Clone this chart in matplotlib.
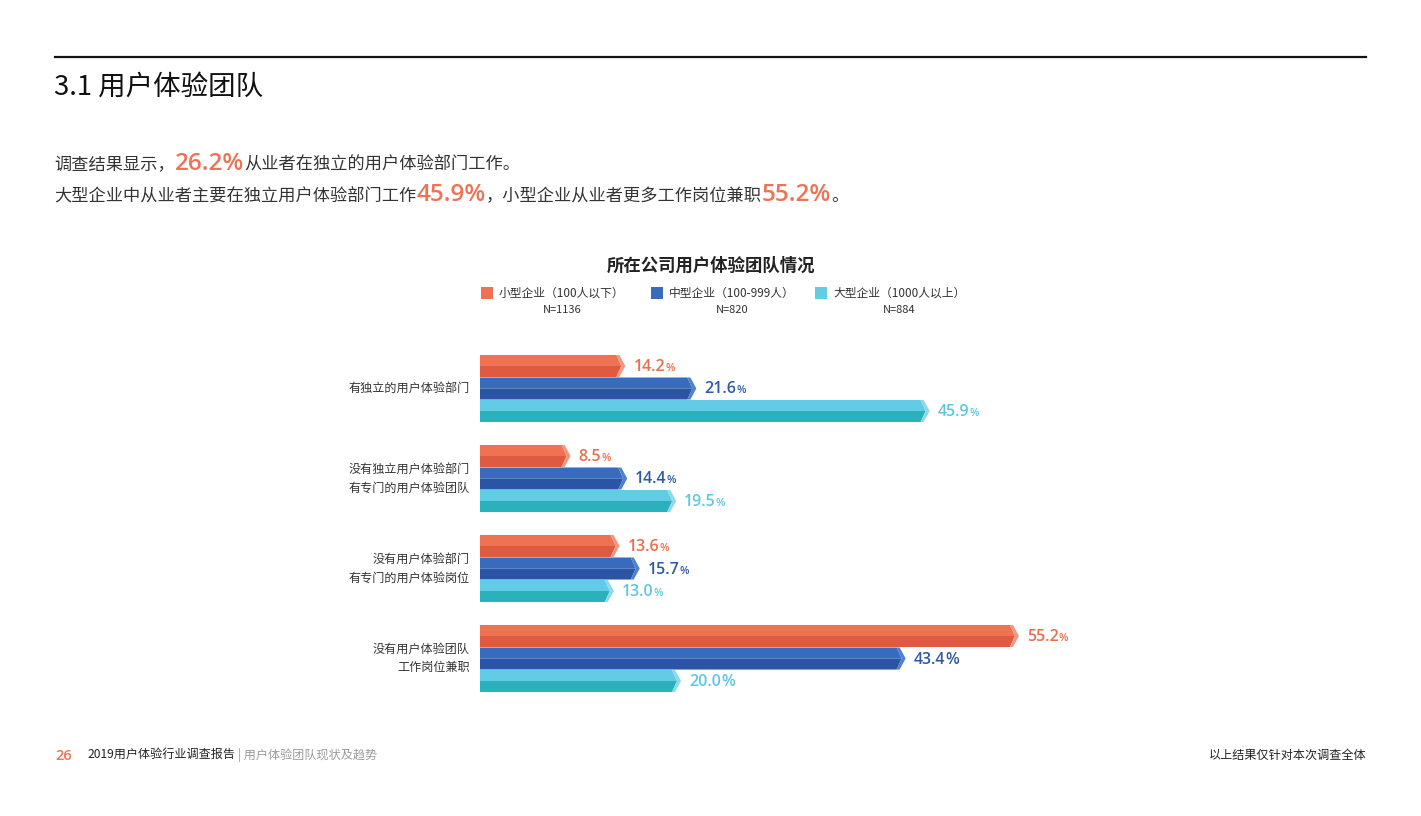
import matplotlib
matplotlib.use("Agg")
import matplotlib.pyplot as plt
from matplotlib.patches import Polygon
from matplotlib.lines import Line2D

plt.rcParams['font.family'] = ['Noto Sans CJK SC', 'DejaVu Sans']

# ---------------- data ----------------
categories = ["有独立的用户体验部门",
              "没有独立用户体验部门\n有专门的用户体验团队",
              "没有用户体验部门\n有专门的用户体验岗位",
              "没有用户体验团队\n工作岗位兼职"]
small_vals = [14.2, 8.5, 13.6, 55.2]
medium_vals = [21.6, 14.4, 15.7, 43.4]
large_vals = [45.9, 19.5, 13.0, 20.0]
series_names = ["小型企业（100人以下）", "中型企业（100-999人）", "大型企业（1000人以上）"]
series_n = ["N=1136", "N=820", "N=884"]
chart_title = "所在公司用户体验团队情况"

# ---------------- styles ----------------
W, H = 1421, 816
fig = plt.figure(figsize=(W / 100, H / 100), dpi=100)
fig.patch.set_facecolor("white")

top_cols = ["#EF7253", "#386BBE", "#62CCE6"]
bot_cols = ["#DE5B42", "#2B55A4", "#2BB1BC"]
cap_cols = ["#F4967E", "#4E80D2", "#8ADAEC"]
lab_cols = ["#EB6D4E", "#2D5AA5", "#5FC6E2"]
big_pct = [[False, False, False, False],
           [False, False, False, True],
           [False, False, False, True]]
num_font = ['Open Sans', 'Noto Sans CJK SC']

# overlay axes in pixel coordinates for free text
ov = fig.add_axes([0, 0, 1, 1])
ov.set_xlim(0, W)
ov.set_ylim(H, 0)
ov.axis("off")

renderer = fig.canvas.get_renderer()


def put_seq(x, y, parts):
    """place a sequence of text parts one after another (pixel coords)"""
    for s, kw in parts:
        t = ov.text(x, y, s, va="baseline", ha="left", **kw)
        bb = t.get_window_extent(renderer)
        x += bb.width
    return x


# header
ov.add_line(Line2D([55, 1366], [57, 57], color="#111111", lw=1.6))
ov.text(54, 95, "3.1 用户体验团队", fontsize=19.8, color="#111111", va="baseline")

orange = "#EE7254"
txtc = "#333333"
body = dict(fontsize=12.4, color=txtc)
hl = dict(fontsize=17.5, color=orange, fontweight="semibold", family=num_font)
put_seq(54, 170, [("调查结果显示，", body),
                  ("26.2%", hl),
                  ("从业者在独立的用户体验部门工作。", body)])
put_seq(54, 201, [("大型企业中从业者主要在独立用户体验部门工作", body),
                  ("45.9%", hl),
                  ("，小型企业从业者更多工作岗位兼职", body),
                  ("55.2%", hl),
                  ("。", body)])

# chart title & legend
ov.text(711, 266, chart_title, fontsize=12.5, fontweight="bold", color="#222222",
        ha="center", va="center")
leg_x = [481, 651, 815]
for i, (nm, n) in enumerate(zip(series_names, series_n)):
    ov.add_patch(plt.Rectangle((leg_x[i], 287), 12, 12, color=top_cols[i], lw=0))
    t = ov.text(leg_x[i] + 18, 293, nm, fontsize=8.5, color=txtc, va="center", ha="left")
    bb = t.get_window_extent(renderer)
    cx = leg_x[i] + 18 + bb.width / 2
    ov.text(cx, 310, n, fontsize=8, color=txtc, va="center", ha="center")

# footer
ov.text(55, 760, "26", fontsize=10.5, color=orange, fontweight="semibold",
        family=num_font, va="baseline")
put_seq(87, 759, [("2019用户体验行业调查报告", dict(fontsize=8.7, color="#222222")),
                  (" | 用户体验团队现状及趋势", dict(fontsize=8.7, color="#9A9A9A"))])
ov.text(1366, 759, "以上结果仅针对本次调查全体", fontsize=8.7, color="#222222",
        ha="right", va="baseline")

# ---------------- bar chart axes ----------------
px_per_pct = 9.6
px_per_unit = 22.5
ax_l, ax_r = 480, 1380
ax_t, ax_b = 340, 710
ax = fig.add_axes([ax_l / W, (H - ax_b) / H, (ax_r - ax_l) / W, (ax_b - ax_t) / H])
ax.set_xlim(0, (ax_r - ax_l) / px_per_pct)
y0_top = (ax_t - 366) / px_per_unit
ax.set_ylim(y0_top + (ax_b - ax_t) / px_per_unit, y0_top)
ax.axis("off")

group_step = 4
bar_h = 0.98
lp = 3 / px_per_pct      # left point protrusion
c1 = 3 / px_per_pct      # cap corner offset
c2 = 9 / px_per_pct      # cap tip offset
c0 = 5 / px_per_pct      # body chevron

series = [small_vals, medium_vals, large_vals]
for s, vals in enumerate(series):
    for g, v in enumerate(vals):
        yc = g * group_step + s
        top = yc - bar_h / 2
        bot = yc + bar_h / 2
        ax.add_patch(Polygon([(-lp, yc), (0, top), (v, top), (v + c0, yc)],
                             closed=True, color=top_cols[s], lw=0))
        ax.add_patch(Polygon([(-lp, yc), (v + c0, yc), (v, bot), (0, bot)],
                             closed=True, color=bot_cols[s], lw=0))
        ax.add_patch(Polygon([(v, top), (v + c1, top), (v + c2, yc), (v + c1, bot),
                              (v, bot), (v + c0, yc)],
                             closed=True, color=cap_cols[s], lw=0))
        xd, yd = ax.transData.transform((v + c2, yc))
        px = xd + 8
        py = H - yd + 5
        num = f"{v:.1f}"
        pct_size = 11.5 if big_pct[s][g] else 7.8
        put_seq(px, py, [(num, dict(fontsize=11.5, color=lab_cols[s], fontweight="semibold",
                                    family=num_font)),
                         ("%", dict(fontsize=pct_size, color=lab_cols[s], fontweight="semibold",
                                    family=num_font))])

# category labels
for g, cat in enumerate(categories):
    xd, yd = ax.transData.transform((0, g * group_step + 1))
    ov.text(470, H - yd, cat, fontsize=8.7, color=txtc, ha="right", va="center",
            linespacing=1.6, multialignment="right")

fig.savefig("out.png", dpi=100, facecolor="white")
